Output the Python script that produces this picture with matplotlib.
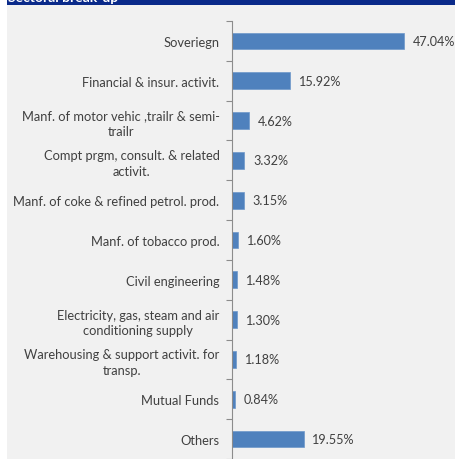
import numpy as np
import matplotlib.pyplot as plt
from matplotlib.patches import Rectangle

# sector names and portfolio weights (%)
sectors = ["Soveriegn",
           "Financial & insur. activit.",
           "Manf. of motor vehic ,trailr & semi-\ntrailr",
           "Compt prgm, consult. & related\nactivit.",
           "Manf. of coke & refined petrol. prod.",
           "Manf. of tobacco prod.",
           "Civil engineering",
           "Electricity, gas, steam and air\nconditioning supply",
           "Warehousing & support activit. for\ntransp.",
           "Mutual Funds",
           "Others"]
weights = [47.04, 15.92, 4.62, 3.32, 3.15, 1.60, 1.48, 1.30, 1.18, 0.84, 19.55]

plt.rcParams['font.family'] = ['Lato', 'DejaVu Sans']

W, H = 456, 460
fig = plt.figure(figsize=(W / 100, H / 100), dpi=100)
fig.patch.set_facecolor("white")

# grey panel and dark header strip
fig.patches.append(Rectangle((7 / W, 0), 1 - 7 / W, 1, transform=fig.transFigure,
                             facecolor="#F1F1F1", edgecolor="none", zorder=0))
fig.patches.append(Rectangle((7 / W, 1 - 6 / H), 1 - 7 / W, 6 / H, transform=fig.transFigure,
                             facecolor="#0A2A8A", edgecolor="none", zorder=1))
fig.text(8 / W, 1 - 4.5 / H, "Sectoral break-up", color="white", fontsize=10,
         fontweight="bold", ha="left", va="bottom", zorder=2)

ax = fig.add_axes([232 / W, 0, (450 - 232) / W, (460 - 22) / H])
ax.set_facecolor("none")
ax.set_zorder(3)

y = np.arange(len(sectors))
ax.barh(y, weights, height=0.42, color="#4F81BD", edgecolor="#6E97CA", linewidth=0.5)

for yi, v in zip(y, weights):
    ax.text(v + 2.4, yi, "%.2f%%" % v, va="center", ha="left", fontsize=9.1, color="#404040")

ax.set_xlim(0, 59.6)
ax.set_ylim(10.42, -0.5)

ax.set_yticks(y)
ax.set_yticklabels(sectors, fontsize=9.3, color="#404040", multialignment="center",
                   linespacing=1.35)
ax.tick_params(axis="y", which="major", length=0, pad=9)
ax.set_yticks(np.arange(-0.5, len(sectors), 1.0), minor=True)
ax.tick_params(axis="y", which="minor", length=4, width=0.8, color="#8C8C8C", direction="out")
ax.set_xticks([])

for s in ["top", "right", "bottom"]:
    ax.spines[s].set_visible(False)
ax.spines["left"].set_color("#8C8C8C")
ax.spines["left"].set_linewidth(0.8)

fig.savefig("out.png", dpi=100)
